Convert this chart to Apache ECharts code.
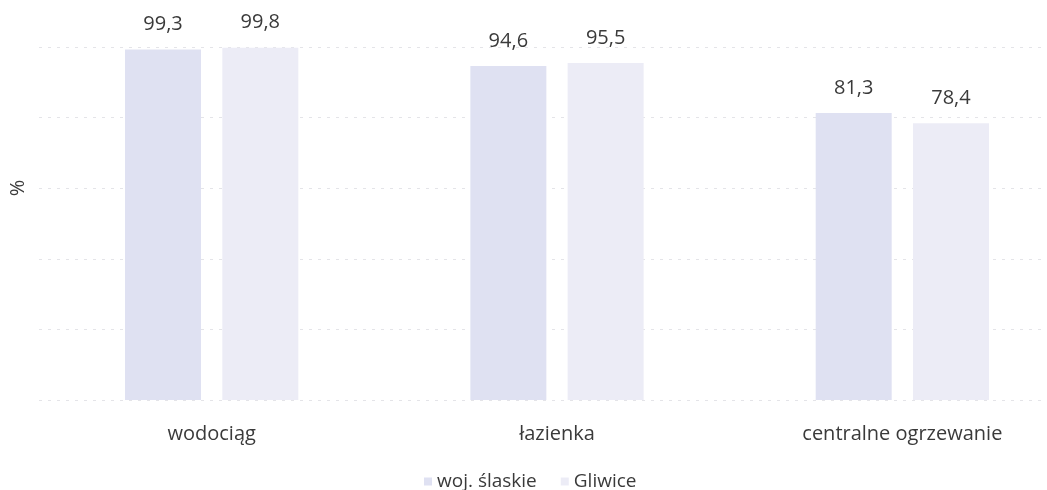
<!DOCTYPE html>
<html>
<head>
<meta charset="utf-8">
<script src="https://cdn.jsdelivr.net/npm/echarts@6/dist/echarts.min.js"></script>
<style>
  html, body { margin: 0; padding: 0; background: #ffffff; }
  #chart { width: 1047px; height: 490px; }
</style>
</head>
<body>
<div id="chart"></div>
<script>
// Wyposażenie mieszkań w instalacje (%)
const categories = ['wodociąg', 'łazienka', 'centralne ogrzewanie'];
const slaskie = [99.3, 94.6, 81.3];
const gliwice = [99.8, 95.5, 78.4];
const seriesNames = ['woj. ślaskie', 'Gliwice'];
const yTicks = { min: 0, max: 100, interval: 20 };

const FONT = '"Open Sans", sans-serif';
const TEXT = '#3a3a3a';

const fmt = v => String(v.toFixed(1)).replace('.', ',');

const chart = echarts.init(document.getElementById('chart'), null, { renderer: 'canvas' });

const labelCfg = {
  show: true,
  position: 'top',
  distance: 15,
  color: TEXT,
  fontFamily: FONT,
  fontSize: 20,
  formatter: p => fmt(p.value)
};

chart.setOption({
  animation: false,
  backgroundColor: '#ffffff',
  textStyle: { fontFamily: FONT },
  // the plot runs past the right edge of the page
  grid: { left: 39, top: 47, right: -28, height: 353, outerBoundsMode: 'none', containLabel: false },
  legend: {
    data: seriesNames,
    left: 424,
    top: 472,
    padding: 0,
    itemWidth: 8,
    itemHeight: 8,
    itemGap: 24,
    icon: 'rect',
    textStyle: { color: TEXT, fontFamily: FONT, fontSize: 19 }
  },
  xAxis: {
    type: 'category',
    data: categories,
    axisLine: { show: false },
    axisTick: { show: false },
    axisLabel: { color: TEXT, fontFamily: FONT, fontSize: 20, margin: 24 }
  },
  yAxis: {
    type: 'value',
    min: yTicks.min,
    max: yTicks.max,
    interval: yTicks.interval,
    axisLabel: { show: false },
    axisLine: { show: false },
    axisTick: { show: false },
    splitLine: { show: true, lineStyle: { color: '#e4e4e8', type: [3, 6], width: 1 } }
  },
  graphic: [{
    type: 'text',
    x: 18,
    y: 188,
    rotation: Math.PI / 2,
    style: {
      text: '%',
      fill: TEXT,
      font: '20px "Open Sans", sans-serif',
      textAlign: 'center',
      textVerticalAlign: 'middle'
    }
  }],
  series: [
    {
      name: seriesNames[0],
      type: 'bar',
      data: slaskie,
      barWidth: 76,
      barGap: '28%',
      itemStyle: { color: '#dfe1f2' },
      label: labelCfg
    },
    {
      name: seriesNames[1],
      type: 'bar',
      data: gliwice,
      barWidth: 76,
      itemStyle: { color: '#ececf6' },
      label: labelCfg
    }
  ]
});
</script>
</body>
</html>
